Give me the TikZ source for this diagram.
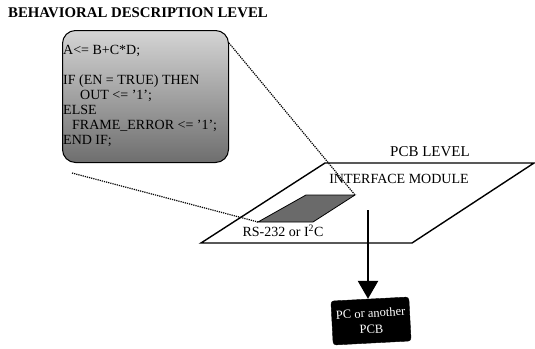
\documentclass[tikz,border=0pt]{standalone}
\usepackage{fontspec}
\setmainfont{Liberation Serif}
\usetikzlibrary{positioning,arrows.meta,calc}
\definecolor{boxtop}{HTML}{D4D4D4}
\definecolor{boxbot}{HTML}{6E6E6E}
\definecolor{chipgrey}{HTML}{6A6A6A}

\begin{document}
\begin{tikzpicture}[x=1pt, y=-1pt,
  every node/.append style={font=\fontsize{14}{16}\selectfont, inner sep=0pt},
  plane/.style={draw=black, line width=1.4pt, fill=white},
  chip/.style={draw=black, line width=0.8pt, fill=chipgrey},
  link/.style={densely dotted, line width=1.2pt},
  codebox/.style={draw=black, line width=1pt, rounded corners=13pt,
    top color=boxtop, bottom color=boxbot, minimum width=166pt, minimum height=132pt},
  target/.style={draw=black, fill=black, rounded corners=3pt, text=white, align=center,
    font=\fontsize{12.5}{16}\selectfont, inner sep=3pt, minimum width=78pt, minimum height=44pt, rotate=3}
]
\useasboundingbox (0,0) rectangle (535,348);

% behavioral level
\node[anchor=west, font=\fontsize{14.8}{16}\selectfont\bfseries] (title) at (8,13) {BEHAVIORAL DESCRIPTION LEVEL};
\node[codebox, anchor=north west] (code) at (62,30) {};
\node[anchor=north west, align=left, font=\fontsize{14}{15}\selectfont] (codetxt) at ($(code.north west)+(1,15)$)
  {A<= B+C*D;\\ ~\\ IF (EN = TRUE) THEN\\ \hspace*{17pt}OUT <= '1';\\ ELSE\\ \hspace*{9pt}FRAME\_ERROR <= '1';\\ END IF;};

% pcb level
\coordinate (p-nw) at (325,163);
\coordinate (p-ne) at (534,163);
\coordinate (p-se) at (412,243);
\coordinate (p-sw) at (201,243);
\draw[plane] (p-nw) -- (p-ne) -- (p-se) -- (p-sw) -- cycle;
\node (pcbname) at (430,152) {\fontsize{15}{16}\selectfont PCB LEVEL};
\node (ifname) at (399,179) {INTERFACE MODULE};

\coordinate (m-nw) at (306,195);
\coordinate (m-ne) at (355,195);
\coordinate (m-se) at (313,222);
\coordinate (m-sw) at (258,222);
\draw[chip] (m-nw) -- (m-ne) -- (m-se) -- (m-sw) -- cycle;
\node (busname) at (283,231) {RS-232 or I\textsuperscript{2}C};

\draw[link] ([yshift=-13pt]code.north east) -- (m-ne);
\draw[link] ([shift={(10,10)}]code.south west) -- (m-sw);

% external target
\node[target] (host) at (371,321) {PC or another\\PCB};
\coordinate (outstart) at (368,210);
\draw[line width=2.6pt, -{Triangle[width=20pt,length=18pt]}] (outstart) -- (outstart |- host.north);
\end{tikzpicture}
\end{document}
